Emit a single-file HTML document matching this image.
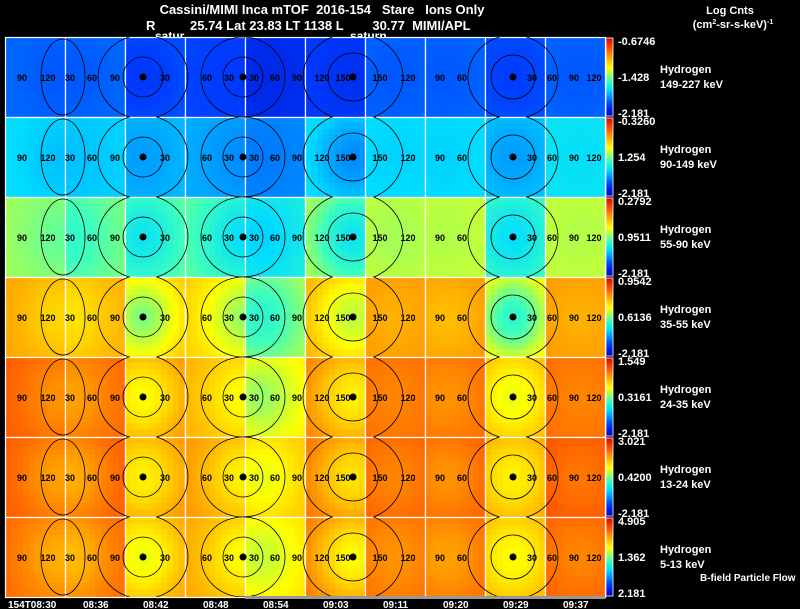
<!DOCTYPE html>
<html><head><meta charset="utf-8"><style>
html,body{margin:0;padding:0;background:#000;}
svg{display:block;font-family:"Liberation Sans",Arial,sans-serif;font-weight:bold;}
</style></head><body>
<svg id="chart" width="800" height="609" viewBox="0 0 800 609">
<rect width="800" height="609" fill="#000"/>
<text x="322" y="14" fill="#fff" font-size="13" text-anchor="middle" xml:space="preserve">Cassini/MIMI Inca mTOF  2016-154   Stare   Ions Only</text>
<text x="146" y="30" fill="#fff" font-size="13">R</text>
<text x="190" y="30" fill="#fff" font-size="13" xml:space="preserve">25.74 Lat 23.83 LT 1138 L        30.77  MIMI/APL</text>
<text x="155" y="40" fill="#fff" font-size="12">satur</text>
<text x="350" y="40" fill="#fff" font-size="12">saturn</text>
<text x="730" y="14" fill="#fff" font-size="11" text-anchor="middle">Log Cnts</text>
<text x="733" y="28" fill="#fff" font-size="11" text-anchor="middle">(cm<tspan font-size="7" dy="-4">2</tspan><tspan dy="4">-sr-s-keV)</tspan><tspan font-size="7" dy="-4">-1</tspan></text>
<g id="panels"></g>
<g id="contours"></g>
<g id="side"></g>
<g id="xlabels"></g>
<text x="700" y="581" fill="#fff" font-size="10">B-field Particle Flow</text>
</svg>
<script>
// ---- data ----
const energies = ["149-227 keV","90-149 keV","55-90 keV","35-55 keV","24-35 keV","13-24 keV","5-13 keV"];
const cbTop = ["-0.6746","-0.3260","0.2792","0.9542","1.549","3.021","4.905"];
const cbMid = ["-1.428","1.254","0.9511","0.6136","0.3161","0.4200","1.362"];
const cbBot = ["-2.181","-2.181","-2.181","-2.181","-2.181","-2.181","2.181"];
const timeLabels = ["154T08:30","08:36","08:42","08:48","08:54","09:03","09:11","09:20","09:29","09:37"];
// normalized intensity per panel (0 = blue, 1 = red): edge values & center values
const edgeVals = [
 [0.20,0.20,0.18,0.16,0.12,0.15,0.20,0.20,0.18,0.20],
 [0.34,0.32,0.30,0.28,0.24,0.36,0.34,0.34,0.32,0.36],
 [0.53,0.50,0.50,0.48,0.40,0.56,0.56,0.56,0.48,0.56],
 [0.76,0.74,0.74,0.70,0.55,0.76,0.78,0.78,0.70,0.78],
 [0.86,0.84,0.80,0.74,0.66,0.82,0.84,0.84,0.76,0.84],
 [0.86,0.86,0.80,0.78,0.72,0.84,0.86,0.86,0.78,0.88],
 [0.84,0.84,0.78,0.76,0.68,0.84,0.84,0.84,0.76,0.86]
];
const centerVals = [
 [0.18,0.18,0.14,0.14,0.10,0.12,0.18,0.18,0.15,0.18],
 [0.30,0.30,0.26,0.24,0.22,0.24,0.32,0.32,0.26,0.34],
 [0.48,0.43,0.36,0.34,0.32,0.36,0.53,0.54,0.34,0.54],
 [0.68,0.66,0.50,0.52,0.42,0.55,0.74,0.72,0.42,0.74],
 [0.78,0.76,0.62,0.62,0.52,0.64,0.80,0.78,0.60,0.80],
 [0.76,0.74,0.64,0.64,0.60,0.66,0.80,0.78,0.64,0.82],
 [0.74,0.72,0.60,0.62,0.56,0.62,0.78,0.76,0.62,0.80]
];
// ---- layout ----
const X0=5, PW=60, Y0=37, PH=80, CELL=6;
const focusX=[60,70,143,243,262,353,395,445,513,580];
const stops=[[0,[0,0,190]],[0.15,[0,60,255]],[0.33,[0,220,255]],[0.45,[60,255,190]],[0.55,[190,255,60]],[0.62,[255,255,0]],[0.74,[255,176,0]],[0.85,[255,96,0]],[1,[224,0,0]]];
function cmap(v){v=Math.max(0,Math.min(1,v));for(let i=1;i<stops.length;i++){if(v<=stops[i][0]){const a=stops[i-1],b=stops[i],t=(v-a[0])/(b[0]-a[0]);const c=a[1].map((q,k)=>Math.round(q+(b[1][k]-q)*t));return `rgb(${c[0]},${c[1]},${c[2]})`;}}return "rgb(224,0,0)";}
const ns="http://www.w3.org/2000/svg";
function mk(tag,attrs,parent){const e=document.createElementNS(ns,tag);for(const k in attrs)e.setAttribute(k,attrs[k]);parent.appendChild(e);return e;}
const panels=document.getElementById('panels');
for(let r=0;r<energies.length;r++){
  for(let c=0;c<timeLabels.length;c++){
    const g=mk('g',{},panels);
    
    
    const px=X0+c*PW, py=Y0+r*PH, cy=py+PH/2;
    for(let j=0;j*CELL<PH;j++){
      for(let i=0;i*CELL<PW;i++){
        const x=px+i*CELL+3, y=py+j*CELL+3;
        const d=Math.hypot(x-focusX[c],(y-cy)*0.85);
        const w=Math.exp(-d*d/(2*28*28));
        const v=edgeVals[r][c]+(centerVals[r][c]-edgeVals[r][c])*w;
        const h=Math.min(CELL,PH-j*CELL);
        const rc=mk('rect',{x:px+i*CELL,y:py+j*CELL,width:CELL,height:h,fill:cmap(v)},g);
        
        
      }
    }
    const b=mk('rect',{x:px+0.5,y:py+0.5,width:PW,height:PH,fill:'none',stroke:'#fff','stroke-width':1.2},g);
    
    
  }
}
// contours (same geometry in each row)
const cont=document.getElementById('contours');
const ell=[[63,22,38],[143,20,20],[143,45,42],[243,20,20],[243,42,40],[353,25,24],[353,50,44],[513,22,22],[513,45,42]];
const dots=[143,243,353,513];
const labs=[[22,"90"],[48,"120"],[70,"30"],[92,"60"],[115,"90"],[165,"30"],[207,"60"],[229,"30"],[254,"30"],[275,"60"],[297,"90"],[322,"120"],[343,"150"],[380,"150"],[408,"120"],[440,"90"],[462,"60"],[532,"30"],[552,"60"],[574,"90"],[594,"120"]];
for(let r=0;r<energies.length;r++){
  const cy=Y0+r*PH+PH/2;
  const cp=mk('clipPath',{id:'cl'+r},cont);
  mk('rect',{x:X0,y:Y0+r*PH,width:600,height:PH},cp);
  const g=mk('g',{'clip-path':'url(#cl'+r+')'},cont);
  
  
  ell.forEach(e=>{const el=mk('ellipse',{cx:e[0],cy:cy,rx:e[1],ry:e[2],fill:'none',stroke:'#000','stroke-width':0.8},g);
    
    });
  dots.forEach(x=>{const d=mk('circle',{cx:x,cy:cy,r:3.5,fill:'#000'},g);
    
    });
  labs.forEach(l=>{const t=mk('text',{x:l[0],y:cy+4,'font-size':9,fill:'#000','text-anchor':'middle'},g);t.textContent=l[1];
    
    });
}
const gl=mk('rect',{x:245,y:596,width:360,height:3,fill:'#999'},cont);


// colorbars and labels
const side=document.getElementById('side');
const defs=mk('defs',{},side);
const lg=mk('linearGradient',{id:'cbg',x1:0,y1:1,x2:0,y2:0},defs);
stops.forEach(s=>mk('stop',{offset:s[0],'stop-color':`rgb(${s[1].join(',')})`},lg));
for(let r=0;r<energies.length;r++){
  const py=Y0+r*PH;
  const cb=mk('rect',{x:606,y:py+1,width:7,height:PH-2,fill:'url(#cbg)',stroke:'#fff','stroke-width':0.8},side);
  
  
  [[cbTop[r],py+8],[cbMid[r],py+44],[cbBot[r],py+80]].forEach((t,k)=>{
    const e=mk('text',{x:618,y:t[1],fill:'#fff','font-size':11},side);e.textContent=t[0];
    
    });
  const h=mk('text',{x:660,y:py+36,fill:'#fff','font-size':11},side);h.textContent="Hydrogen";
  
  
  const en=mk('text',{x:660,y:py+51,fill:'#fff','font-size':11},side);en.textContent=energies[r];
  
  
}
const xl=document.getElementById('xlabels');
timeLabels.forEach((t,i)=>{
  const e=mk('text',{x:i===0?8:X0+i*PW+18,y:608,fill:'#fff','font-size':10},xl);e.textContent=t;
  
  
});
</script>
</body></html>
